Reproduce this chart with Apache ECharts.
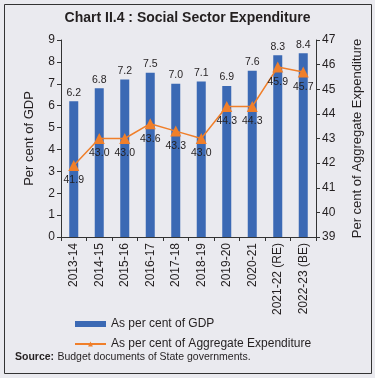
<!DOCTYPE html>
<html>
<head>
<meta charset="utf-8">
<script src="https://cdn.jsdelivr.net/npm/echarts@6/dist/echarts.min.js"></script>
<style>
  html, body { margin: 0; padding: 0; background: #fff; }
  #chart { width: 375px; height: 378px; }
</style>
</head>
<body>
<div id="chart"></div>
<script>
var years = ["2013-14", "2014-15", "2015-16", "2016-17", "2017-18", "2018-19",
  "2019-20", "2020-21", "2021-22 (RE)", "2022-23 (BE)"];
var gdpShare = [6.2, 6.8, 7.2, 7.5, 7.0, 7.1, 6.9, 7.6, 8.3, 8.4];
var expShare = [41.9, 43.0, 43.0, 43.6, 43.3, 43.0, 44.3, 44.3, 45.9, 45.7];

var txt = "#231f20";
var font = "Liberation Sans, Arial, sans-serif";

var myChart = echarts.init(document.getElementById("chart"));
var option = {
  backgroundColor: "#eaeaef",
  textStyle: { fontFamily: font },
  animation: false,
  title: {
    text: "Chart II.4 : Social Sector Expenditure",
    left: "center",
    top: 6,
    textStyle: { fontSize: 14, fontWeight: "bold", color: txt, fontFamily: font }
  },
  graphic: [
    {
      type: "rect",
      shape: { x: 4.5, y: 4.5, width: 367, height: 369 },
      style: { fill: "none", stroke: "#333", lineWidth: 1 }
    },
    {
      type: "text",
      left: 15,
      top: 351,
      style: {
        rich: {
          b: { fontWeight: "bold", fontSize: 10.5, fill: txt, fontFamily: font },
          n: { fontSize: 10.5, fill: txt, fontFamily: font }
        },
        text: "{b|Source:} {n|Budget documents of State governments.}"
      }
    }
  ],
  grid: { left: 61, right: 59, top: 40, bottom: 141 },
  legend: {
    orient: "vertical",
    left: 69,
    top: 313,
    itemGap: 8,
    itemWidth: 31,
    itemHeight: 6,
    textStyle: { fontSize: 12, color: txt, fontFamily: font },
    data: [
      { name: "As per cent of GDP", icon: "rect" },
      { name: "As per cent of Aggregate Expenditure" }
    ]
  },
  xAxis: {
    type: "category",
    data: years,
    axisLine: { lineStyle: { color: "#333" } },
    axisTick: { show: true, alignWithLabel: false, length: 4, lineStyle: { color: "#333" } },
    axisLabel: { rotate: 90, color: txt, fontSize: 12, margin: 6, interval: 0 }
  },
  yAxis: [
    {
      type: "value",
      min: 0,
      max: 9,
      interval: 1,
      name: "Per cent of GDP",
      nameLocation: "middle",
      nameGap: 25,
      nameTextStyle: { fontSize: 13, color: txt },
      axisLine: { show: true, lineStyle: { color: "#333" } },
      axisTick: { show: true, length: 4, lineStyle: { color: "#333" } },
      axisLabel: { color: txt, fontSize: 12, margin: 6 },
      splitLine: { show: false }
    },
    {
      type: "value",
      min: 39,
      max: 47,
      interval: 1,
      name: "Per cent of Aggregate Expenditure",
      nameLocation: "middle",
      nameGap: 35,
      nameRotate: 90,
      nameTextStyle: { fontSize: 13, color: txt },
      axisLine: { show: true, lineStyle: { color: "#333" } },
      axisTick: { show: true, length: 4, lineStyle: { color: "#333" } },
      axisLabel: { color: txt, fontSize: 12, margin: 6 },
      splitLine: { show: false }
    }
  ],
  series: [
    {
      name: "As per cent of GDP",
      type: "bar",
      data: gdpShare,
      barWidth: 9,
      itemStyle: { color: "#3b69b4" },
      label: {
        show: true,
        position: "top",
        distance: 3,
        fontSize: 10.5,
        color: txt,
        formatter: function (p) { return p.value.toFixed(1); }
      }
    },
    {
      name: "As per cent of Aggregate Expenditure",
      type: "line",
      yAxisIndex: 1,
      data: expShare,
      symbol: "triangle",
      symbolSize: 11,
      lineStyle: { color: "#f07f2a", width: 1.5 },
      itemStyle: { color: "#f07f2a" },
      label: {
        show: true,
        position: "bottom",
        distance: 4,
        fontSize: 10.5,
        color: txt,
        formatter: function (p) { return p.value.toFixed(1); }
      }
    }
  ]
};
myChart.setOption(option);
</script>
</body>
</html>
